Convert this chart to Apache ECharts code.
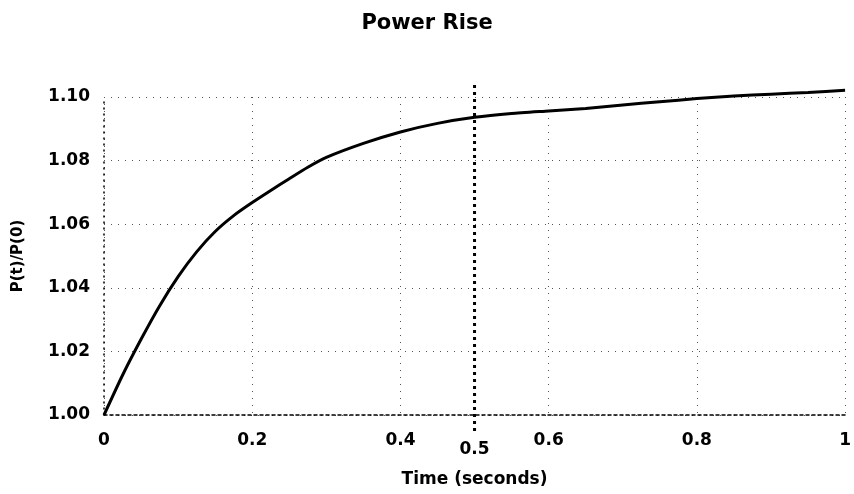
<!DOCTYPE html>
<html>
<head>
<meta charset="utf-8">
<script src="https://cdn.jsdelivr.net/npm/echarts@6/dist/echarts.min.js"></script>
<style>html,body{margin:0;padding:0;background:#fff;}#c{width:854px;height:494px;}</style>
</head>
<body>
<div id="c"></div>
<script>
var times = [0, 0.025, 0.05, 0.075, 0.10, 0.125, 0.15, 0.175, 0.20, 0.225, 0.25, 0.275, 0.30, 0.35, 0.40, 0.45, 0.50, 0.55, 0.60, 0.65, 0.70, 0.75, 0.80, 0.85, 0.90, 0.95, 1.00];
var powers = [1.000, 1.0125, 1.0238, 1.0343, 1.0435, 1.0513, 1.0577, 1.0627, 1.0668, 1.0706, 1.0743, 1.0779, 1.0810, 1.0854, 1.0890, 1.0917, 1.0936, 1.0948, 1.0956, 1.0964, 1.0975, 1.0985, 1.0995, 1.1003, 1.1009, 1.1014, 1.1021];
var markerT = 0.5;
var markerRange = [0.995, 1.104];
var xTicks = [0, 0.2, 0.4, 0.6, 0.8, 1];

var chart = echarts.init(document.getElementById('c'));
var font = '"DejaVu Sans", Arial, sans-serif';
var grid = {type: [1, 6], color: '#555', width: 1};
var lbl = {fontFamily: font, fontWeight: 'bold', fontSize: 17, color: '#000'};
chart.setOption({
  animation: false,
  backgroundColor: '#fff',
  title: {text: 'Power Rise', left: 'center', top: 8, textStyle: {fontFamily: font, fontWeight: 'bold', fontSize: 21, color: '#000'}},
  grid: {left: 104, right: 8, top: 97, bottom: 79},
  xAxis: [{
    type: 'value', min: 0, max: 1, interval: 0.2,
    name: 'Time (seconds)', nameLocation: 'middle', nameGap: 56,
    nameTextStyle: {fontFamily: font, fontWeight: 'bold', fontSize: 17, color: '#000'},
    axisLine: {lineStyle: {color: '#000', type: [3, 3], width: 1.5}},
    axisTick: {show: false},
    splitLine: {show: true, lineStyle: grid},
    axisLabel: Object.assign({margin: 17,
      formatter: function (v) { var r = Math.round(v * 10) / 10; return xTicks.indexOf(r) >= 0 ? String(r) : ''; }}, lbl)
  }, {
    type: 'value', min: 0, max: 1, interval: 0.1, position: 'bottom', offset: 9,
    axisLine: {show: false}, axisTick: {show: false}, splitLine: {show: false},
    axisLabel: Object.assign({margin: 17,
      formatter: function (v) { return Math.abs(v - markerT) < 1e-9 ? String(markerT) : ''; }}, lbl)
  }],
  yAxis: {
    type: 'value', min: 1.0, max: 1.1, interval: 0.02,
    name: 'P(t)/P(0)', nameLocation: 'middle', nameGap: 78, nameRotate: 90,
    nameTextStyle: {fontFamily: font, fontWeight: 'bold', fontSize: 15, color: '#000'},
    axisLine: {show: true, lineStyle: {color: '#000', type: [1, 5], width: 1.5}},
    axisTick: {show: false},
    splitLine: {show: true, lineStyle: grid},
    axisLabel: Object.assign({margin: 14, formatter: function (v) { return v.toFixed(2); }}, lbl)
  },
  series: [{
    type: 'line', showSymbol: false, smooth: 0.2, clip: false,
    data: times.map(function (t, i) { return [t, powers[i]]; }),
    lineStyle: {color: '#000', width: 3}
  }, {
    type: 'line', showSymbol: false, clip: false,
    data: [[markerT, markerRange[0]], [markerT, markerRange[1]]],
    lineStyle: {color: '#000', width: 3, type: [3, 4]}
  }]
});
</script>
</body>
</html>
